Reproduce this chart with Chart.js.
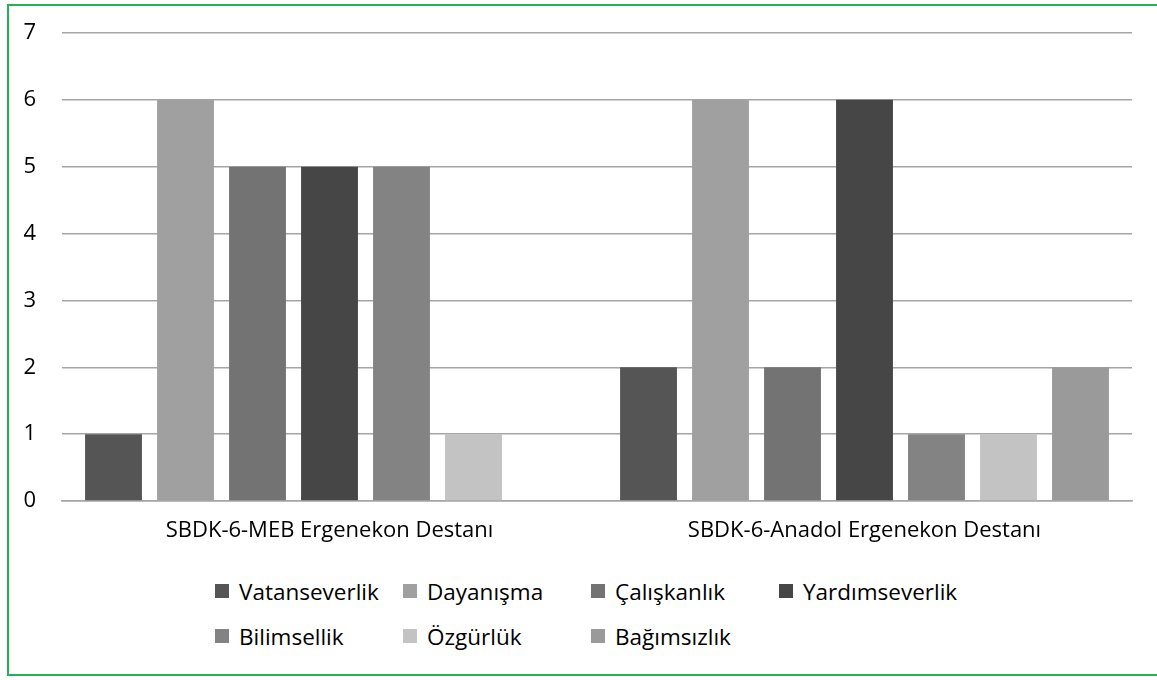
<!DOCTYPE html>
<html>
<head>
<meta charset="utf-8">
<script src="https://cdn.jsdelivr.net/npm/chart.js@4/dist/chart.umd.min.js"></script>
<style>
  html, body { margin: 0; padding: 0; background: #fff; overflow: hidden; }
  #page { width: 1157px; height: 680px; position: relative; overflow: hidden; font-family: "Open Sans", "Noto Sans", sans-serif; }
  #frame { position: absolute; left: 7px; top: 4px; width: 1150px; height: 672px; border: 2px solid #22b35a; border-right: none; box-sizing: border-box; }
  #wrap { position: absolute; left: 0; top: 0; width: 1157px; height: 560px; }
  #legend { position: absolute; left: 215px; top: 575px; display: grid; grid-template-columns: repeat(4, 188px); row-gap: 13px; }
  .li { display: flex; align-items: center; font-size: 22.5px; color: #000; height: 32px; white-space: nowrap; }
  .sw { width: 14px; height: 14px; margin-right: 10px; flex: none; }
</style>
</head>
<body>
<div id="page">
<div id="frame"></div>
<div id="wrap"><canvas id="c" width="1157" height="560"></canvas></div>
<div id="legend"></div>
</div>
<script>
const categories = ["SBDK-6-MEB Ergenekon Destanı", "SBDK-6-Anadol Ergenekon Destanı"];
const seriesNames = ["Vatanseverlik", "Dayanışma", "Çalışkanlık", "Yardımseverlik", "Bilimsellik", "Özgürlük", "Bağımsızlık"];
const vatanseverlik = [1, 2];
const dayanisma = [6, 6];
const caliskanlik = [5, 2];
const yardimseverlik = [5, 6];
const bilimsellik = [5, 1];
const ozgurluk = [1, 1];
const bagimsizlik = [0, 2];
const yTicks = [0, 1, 2, 3, 4, 5, 6, 7];

const seriesValues = [vatanseverlik, dayanisma, caliskanlik, yardimseverlik, bilimsellik, ozgurluk, bagimsizlik];
const colors = ["#555555", "#a0a0a0", "#737373", "#464646", "#838383", "#c3c3c3", "#9a9a9a"];

const FONT = "'Open Sans', 'Noto Sans', sans-serif";

const datasets = seriesNames.map((n, i) => ({
  label: n,
  data: seriesValues[i],
  backgroundColor: colors[i],
  borderWidth: 0,
  categoryPercentage: 0.942,
  barPercentage: 0.79
}));

new Chart(document.getElementById('c'), {
  type: 'bar',
  data: { labels: categories, datasets },
  options: {
    responsive: false,
    animation: false,
    layout: { padding: { top: 33, right: 25, left: 0, bottom: 0 } },
    plugins: { legend: { display: false }, tooltip: { enabled: false } },
    scales: {
      x: {
        grid: { display: false, drawTicks: false },
        border: { display: true, color: '#a6a6a6', width: 1.5 },
        ticks: { color: '#000', font: { family: FONT, size: 22 }, padding: 17 },
        afterFit: (s) => { s.height = 59; s.paddingLeft = 0; s.paddingRight = 0; }
      },
      y: {
        min: 0, max: 7,
        afterBuildTicks: (s) => { s.ticks = yTicks.map(v => ({ value: v })); },
        grid: { color: '#a6a6a6', lineWidth: 1.5, drawTicks: false },
        border: { display: false },
        ticks: { color: '#000', font: { family: FONT, size: 22 }, padding: 26 },
        afterFit: (s) => { s.width = 62; s.paddingTop = 0; s.paddingBottom = 0; }
      }
    }
  }
});

const leg = document.getElementById('legend');
seriesNames.forEach((n, i) => {
  const d = document.createElement('div');
  d.className = 'li';
  d.innerHTML = '<span class="sw" style="background:' + colors[i] + '"></span><span>' + n + '</span>';
  leg.appendChild(d);
});
</script>
</body>
</html>
